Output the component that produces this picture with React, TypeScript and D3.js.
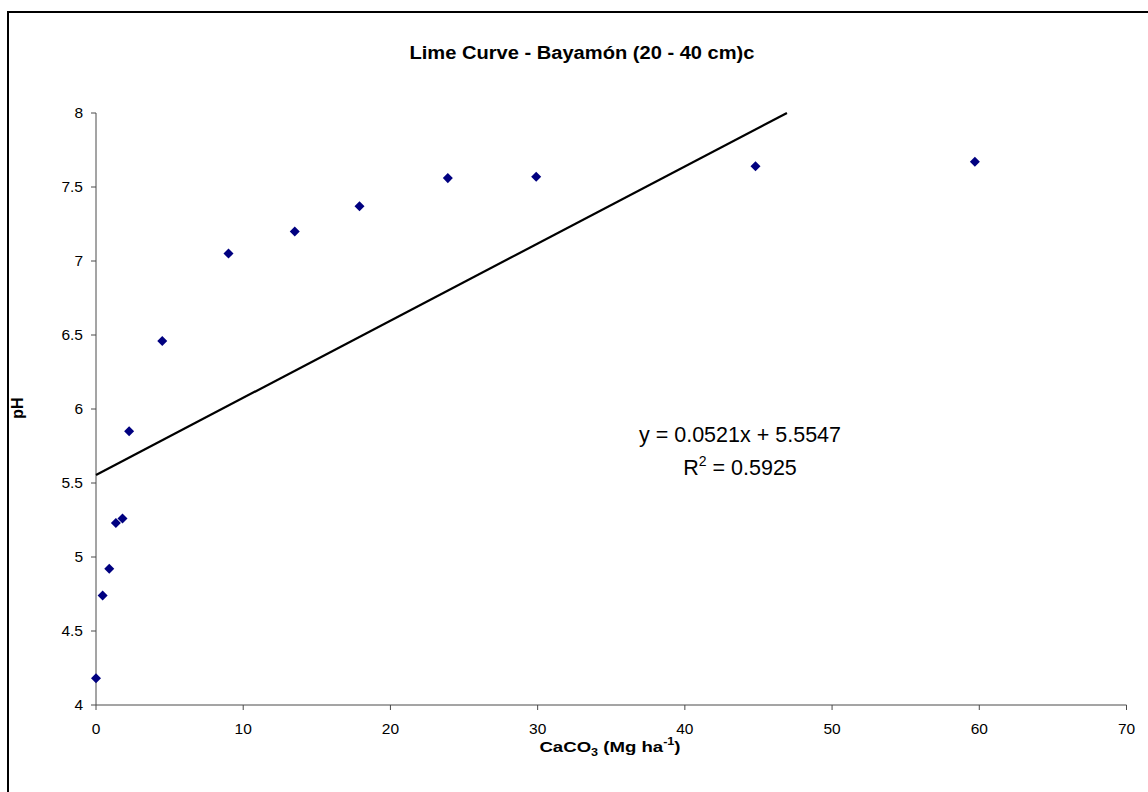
import React from "react";
import * as d3 from "d3";

const lime = [0, 0.45, 0.9, 1.35, 1.8, 2.25, 4.5, 9, 13.5, 17.9, 23.9, 29.9, 44.8, 59.7];
const ph = [4.18, 4.74, 4.92, 5.23, 5.26, 5.85, 6.46, 7.05, 7.2, 7.37, 7.56, 7.57, 7.64, 7.67];
const xTicks = [0, 10, 20, 30, 40, 50, 60, 70];
const yTicks = [4, 4.5, 5, 5.5, 6, 6.5, 7, 7.5, 8];
const slope = 0.0521;
const intercept = 5.5547;
const r2 = "0.5925";

const W = 1148;
const H = 792;
const font = "Arial, 'Liberation Sans', Helvetica, sans-serif";

export default function App() {
  const x = d3.scaleLinear().domain([0, 70]).range([96, 1126.5]);
  const y = d3.scaleLinear().domain([4, 8]).range([705, 113]);
  const xEnd = (8 - intercept) / slope;
  const trend = d3.line<number>().x((d) => x(d)).y((d) => y(slope * d + intercept))([0, xEnd]);
  const diamond = d3.symbol().type(d3.symbolDiamond2 ?? d3.symbolDiamond).size(64)();
  const points = lime.map((v, i) => [v, ph[i]] as [number, number]);

  return (
    <svg
      width={W}
      height={H}
      style={{ position: "absolute", left: 0, top: 0, display: "block", background: "#fff" }}
      fontFamily={font}
    >
      <rect x={0} y={0} width={W} height={H} fill="#fff" />
      <path d={`M8,${H} V12 H${W}`} fill="none" stroke="#000" strokeWidth={2} />
      <text x={582} y={59} textAnchor="middle" fontSize={18} fontWeight="bold" fill="#000"
        textLength={345} lengthAdjust="spacingAndGlyphs">
        Lime Curve - Bayamón (20 - 40 cm)c
      </text>
      {/* axes */}
      <line x1={x(0)} x2={x(0)} y1={y(8)} y2={y(4)} stroke="#4a4a4a" strokeWidth={1} />
      <line x1={x(0)} x2={x(70)} y1={y(4)} y2={y(4)} stroke="#4a4a4a" strokeWidth={1} />
      {yTicks.map((t) => (
        <g key={"y" + t}>
          <line x1={x(0) - 5} x2={x(0)} y1={y(t)} y2={y(t)} stroke="#4a4a4a" />
          <text x={83} y={y(t)} dy="0.35em" textAnchor="end" fontSize={15.5} fill="#000">
            {t}
          </text>
        </g>
      ))}
      {xTicks.map((t) => (
        <g key={"x" + t}>
          <line x1={x(t)} x2={x(t)} y1={y(4)} y2={y(4) + 5} stroke="#4a4a4a" />
          <text x={x(t)} y={734} textAnchor="middle" fontSize={15.5} fill="#000">
            {t}
          </text>
        </g>
      ))}
      <text
        transform={`translate(23,408) rotate(-90)`}
        textAnchor="middle"
        fontSize={16}
        fontWeight="bold"
        fill="#000"
      >
        pH
      </text>
      <g transform="translate(610,752) scale(1.2,1)">
        <text x={0} y={0} textAnchor="middle" fontSize={15.5} fontWeight="bold" fill="#000">
          CaCO<tspan fontSize={10.5} dy={4}>3</tspan>
          <tspan dy={-4}> (Mg ha</tspan>
          <tspan fontSize={10.5} dy={-7}>-1</tspan>
          <tspan dy={7}>)</tspan>
        </text>
      </g>
      {/* trendline */}
      <path d={trend ?? ""} fill="none" stroke="#000" strokeWidth={2.2} />
      {points.map((p, i) => (
        <path key={i} d={diamond ?? ""} transform={`translate(${x(p[0])},${y(p[1])})`} fill="#000080" />
      ))}
      <text x={740} y={442} textAnchor="middle" fontSize={21.5} fill="#000">
        y = 0.0521x + 5.5547
      </text>
      <text x={740} y={475} textAnchor="middle" fontSize={21.5} fill="#000">
        R<tspan fontSize={14} dy={-9}>2</tspan>
        <tspan dy={9}> = {r2}</tspan>
      </text>
    </svg>
  );
}
